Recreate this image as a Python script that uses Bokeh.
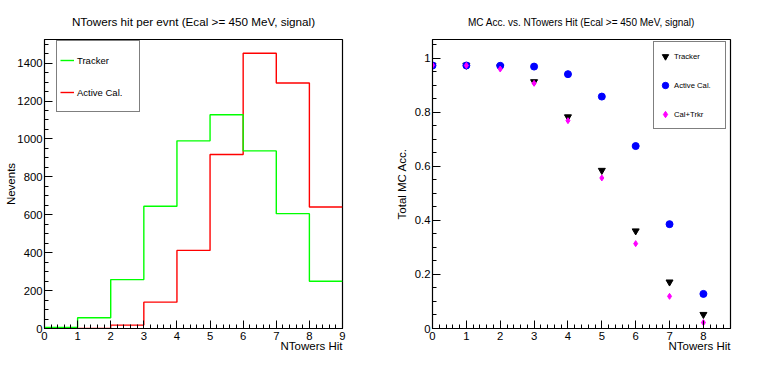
from bokeh.plotting import figure
from bokeh.models import (FixedTicker, Legend, LegendItem, Range1d, Title,
                          CustomJSTickFormatter)
from bokeh.layouts import row
from bokeh.embed import file_html
from bokeh.resources import INLINE

FONT = "Liberation Sans"

# ---------------- data: left panel (histograms) ----------------
bin_edges = [0, 1, 2, 3, 4, 5, 6, 7, 8, 9]
tracker_counts = [5, 57, 258, 645, 990, 1128, 937, 606, 249]
activecal_counts = [0, 0, 18, 139, 412, 918, 1452, 1295, 641]

# ---------------- data: right panel (acceptance) ----------------
ntowers = [0, 1, 2, 3, 4, 5, 6, 7, 8]
tracker_acc = [0.974, 0.974, 0.968, 0.913, 0.783, 0.585, 0.361, 0.172, 0.052]
activecal_acc = [0.973, 0.973, 0.972, 0.969, 0.941, 0.858, 0.675, 0.386, 0.128]
caltrkr_acc = [0.974, 0.973, 0.960, 0.907, 0.769, 0.557, 0.314, 0.119, 0.022]

# ---------------- ticks ----------------
left_x_major = [0, 1, 2, 3, 4, 5, 6, 7, 8, 9]
left_x_minor = [round(i * 0.2, 2) for i in range(46)]
left_y_major = [0, 200, 400, 600, 800, 1000, 1200, 1400]
left_y_minor = [i * 50 for i in range(31)]
right_x_major = [0, 1, 2, 3, 4, 5, 6, 7, 8]
right_x_minor = [round(i * 0.2, 2) for i in range(45)]
right_y_major = [0, 0.2, 0.4, 0.6, 0.8, 1.0]
right_y_minor = [round(i * 0.05, 2) for i in range(22)]

LEFT_TITLE = "NTowers hit per evnt (Ecal >= 450 MeV, signal)"
RIGHT_TITLE = "MC Acc. vs. NTowers Hit (Ecal >= 450 MeV, signal)"

# ranges (ROOT-like)
L_XMAX = bin_edges[-1]
L_YMAX = 1.05 * max(max(tracker_counts), max(activecal_counts))
all_acc = tracker_acc + activecal_acc + caltrkr_acc
R_XMAX = ntowers[-1] + 0.1 * (ntowers[-1] - ntowers[0])
R_YMAX = max(all_acc) + 0.1 * (max(all_acc) - min(all_acc))


def make_fig(title, xmax, ymax, xmaj, xmin, ymaj, ymin, borders, title_size,
             xtitle, ytitle, ystandoff):
    bl, br, bt, bb = borders
    p = figure(frame_width=298, frame_height=289,
               x_range=Range1d(0, xmax), y_range=Range1d(0, ymax),
               output_backend="svg", toolbar_location=None,
               min_border_left=bl, min_border_right=br,
               min_border_top=bt, min_border_bottom=bb,
               background_fill_color="white", border_fill_color="white")
    p.grid.visible = False
    p.outline_line_color = "black"
    p.outline_line_width = 1.2
    p.title.text = title
    p.title.align = "center"
    p.title.vertical_align = "top"
    p.title.text_font = FONT
    p.title.text_font_style = "normal"
    p.title.text_font_size = title_size
    p.title.text_color = "black"
    p.title.standoff = 20
    xax = p.below[0]
    yax = p.left[0]
    xax.ticker = FixedTicker(ticks=xmaj, minor_ticks=xmin)
    yax.ticker = FixedTicker(ticks=ymaj, minor_ticks=ymin)
    for ax in (xax, yax):
        ax.major_tick_in = 8
        ax.major_tick_out = 0
        ax.minor_tick_in = 4
        ax.minor_tick_out = 0
        ax.major_tick_line_color = "black"
        ax.minor_tick_line_color = "black"
        ax.axis_line_color = "black"
        ax.major_label_text_font = FONT
        ax.major_label_text_font_size = "11.3px"
        ax.major_label_text_color = "black"
        ax.axis_label_text_font = FONT
        ax.axis_label_text_font_size = "11.5px"
        ax.axis_label_text_font_style = "normal"
        ax.axis_label_text_color = "black"
    xax.major_label_standoff = 3
    yax.major_label_standoff = 2
    yax.axis_label = ytitle
    yax.axis_label_standoff = ystandoff
    # x-axis title, right-aligned below the axis (ROOT style)
    p.add_layout(Title(text=xtitle, align="right", vertical_align="top",
                       standoff=-6, text_font=FONT, text_font_size="11.5px",
                       text_font_style="normal", text_color="black"),
                 "below")
    return p


# ---------------- left figure ----------------
p1 = make_fig(LEFT_TITLE, L_XMAX, L_YMAX, left_x_major, left_x_minor,
              left_y_major, left_y_minor, (44, 46, 39, 32), "11.7px",
              "NTowers Hit", "Nevents", -3)
r_red = p1.step(x=bin_edges, y=activecal_counts + [activecal_counts[-1]],
                mode="after", line_color="#ff0000", line_width=1.4)
r_green = p1.step(x=bin_edges, y=tracker_counts + [tracker_counts[-1]],
                  mode="after", line_color="#00ff00", line_width=1.4)
leg1 = Legend(items=[LegendItem(label="Tracker", renderers=[r_green]),
                     LegendItem(label="Active Cal.", renderers=[r_red])],
              location=(12, 216), orientation="vertical",
              border_line_color="black", border_line_width=1.2,
              background_fill_color="white", background_fill_alpha=1,
              padding=3, spacing=0, margin=0,
              glyph_width=14, glyph_height=32, label_height=32,
              label_width=59, label_standoff=3,
              label_text_font=FONT, label_text_font_size="9.5px",
              label_text_color="black")
p1.add_layout(leg1)

# ---------------- right figure ----------------
p2 = make_fig(RIGHT_TITLE, R_XMAX, R_YMAX, right_x_major, right_x_minor,
              right_y_major, right_y_minor, (44, 37, 39, 32), "10px",
              "NTowers Hit", "Total MC Acc.", 4)
p2.left[0].formatter = CustomJSTickFormatter(
    code="return Number(tick.toFixed(2)).toString();")
s_trk = p2.scatter(ntowers, tracker_acc, marker="inverted_triangle", size=7,
                   fill_color="black", line_color="black")
s_cal = p2.scatter(ntowers, activecal_acc, marker="circle", size=7,
                   fill_color="#0000ff", line_color="#0000ff")
s_both = p2.scatter(ntowers, caltrkr_acc, marker="diamond", size=6,
                    fill_color="#ff00ff", line_color="#ff00ff")
leg2 = Legend(items=[LegendItem(label="Tracker", renderers=[s_trk]),
                     LegendItem(label="Active Cal.", renderers=[s_cal]),
                     LegendItem(label="Cal+Trkr", renderers=[s_both])],
              location=(221, 199), orientation="vertical",
              border_line_color="black", border_line_width=1.2,
              background_fill_color="white", background_fill_alpha=1,
              padding=3, spacing=7, margin=0,
              glyph_width=16, glyph_height=22, label_height=22,
              label_width=48, label_standoff=1,
              label_text_font=FONT, label_text_font_size="7.7px",
              label_text_color="black")
p2.add_layout(leg2)

layout = row(p1, p2)
open("out.html", "w").write(file_html(layout, INLINE))
